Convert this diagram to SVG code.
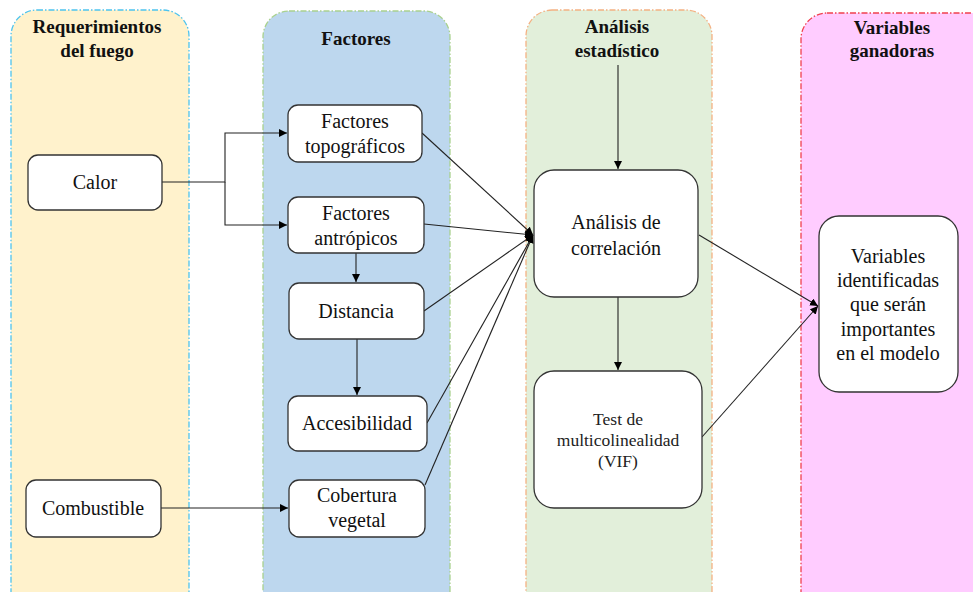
<svg xmlns="http://www.w3.org/2000/svg" width="973" height="592" viewBox="0 0 973 592">
<style>
.lane{stroke-width:1.3;stroke-dasharray:6 2 1.5 2}
.node{fill:#fff;stroke:#333;stroke-width:1.3}
.c{fill:none;stroke:#222;stroke-width:1.1}
</style>
<defs>
<marker id="ah" viewBox="0 0 10 10" refX="10" refY="5" markerWidth="8" markerHeight="8" markerUnits="userSpaceOnUse" orient="auto">
<path d="M0,0 L10,5 L0,10 z" fill="#000"/>
</marker>
</defs>
<rect width="973" height="592" fill="#fff"/>
<g id="lane-requerimientos">
<rect class="lane" x="11" y="10" width="178" height="610" rx="26" fill="#FFF2CC" stroke="#4DC3EE"/>
<text x="97" y="33" font-family="Liberation Serif" font-size="19" font-weight="bold" text-anchor="middle" fill="#111">Requerimientos</text>
<text x="97" y="57" font-family="Liberation Serif" font-size="19" font-weight="bold" text-anchor="middle" fill="#111">del fuego</text>
</g>
<g id="lane-factores">
<rect class="lane" x="263" y="11" width="187" height="610" rx="26" fill="#BDD7EE" stroke="#A9D18E"/>
<text x="356" y="45" font-family="Liberation Serif" font-size="19" font-weight="bold" text-anchor="middle" fill="#111">Factores</text>
</g>
<g id="lane-analisis">
<rect class="lane" x="526" y="10" width="186" height="610" rx="26" fill="#E2EFDA" stroke="#F4B183"/>
<text x="617" y="33" font-family="Liberation Serif" font-size="19" font-weight="bold" text-anchor="middle" fill="#111">Análisis</text>
<text x="617" y="57" font-family="Liberation Serif" font-size="19" font-weight="bold" text-anchor="middle" fill="#111">estadístico</text>
</g>
<g id="lane-variables">
<rect class="lane" x="801" y="13" width="200" height="610" rx="26" fill="#FFCCFF" stroke="#F0404F"/>
<text x="892" y="34" font-family="Liberation Serif" font-size="19" font-weight="bold" text-anchor="middle" fill="#111">Variables</text>
<text x="892" y="57" font-family="Liberation Serif" font-size="19" font-weight="bold" text-anchor="middle" fill="#111">ganadoras</text>
</g>
<g id="connectors">
<polyline class="c" points="162,182 225,182 225,133 287,133" marker-end="url(#ah)"/>
<polyline class="c" points="225,182 225,225 287,225" marker-end="url(#ah)"/>
<line class="c" x1="356" y1="253" x2="356" y2="282" marker-end="url(#ah)"/>
<line class="c" x1="357" y1="339" x2="357" y2="395" marker-end="url(#ah)"/>
<line class="c" x1="161" y1="508" x2="288" y2="508" marker-end="url(#ah)"/>
<line class="c" x1="422" y1="133" x2="533" y2="235" marker-end="url(#ah)"/>
<line class="c" x1="424" y1="224" x2="533" y2="235" marker-end="url(#ah)"/>
<line class="c" x1="424" y1="311" x2="533" y2="235" marker-end="url(#ah)"/>
<line class="c" x1="427" y1="423" x2="533" y2="235" marker-end="url(#ah)"/>
<line class="c" x1="425" y1="485" x2="533" y2="235" marker-end="url(#ah)"/>
<line class="c" x1="618" y1="65" x2="618" y2="169" marker-end="url(#ah)"/>
<line class="c" x1="618" y1="297" x2="618" y2="370" marker-end="url(#ah)"/>
<line class="c" x1="699" y1="235" x2="818" y2="306" marker-end="url(#ah)"/>
<line class="c" x1="702" y1="437" x2="818" y2="306" marker-end="url(#ah)"/>
</g>
<g id="calor">
<rect class="node" x="28" y="155" width="134" height="55" rx="10"/>
<text x="95" y="189" font-family="Liberation Serif" font-size="20" text-anchor="middle" fill="#111">Calor</text>
</g>
<g id="combustible">
<rect class="node" x="26" y="480" width="135" height="57" rx="10"/>
<text x="93" y="515" font-family="Liberation Serif" font-size="20" text-anchor="middle" fill="#111">Combustible</text>
</g>
<g id="factores-topograficos">
<rect class="node" x="288" y="105" width="134" height="57" rx="10"/>
<text x="355" y="128" font-family="Liberation Serif" font-size="20" text-anchor="middle" fill="#111">Factores</text>
<text x="355" y="153" font-family="Liberation Serif" font-size="20" text-anchor="middle" fill="#111">topográficos</text>
</g>
<g id="factores-antropicos">
<rect class="node" x="288" y="197" width="136" height="56" rx="10"/>
<text x="356" y="220" font-family="Liberation Serif" font-size="20" text-anchor="middle" fill="#111">Factores</text>
<text x="356" y="245" font-family="Liberation Serif" font-size="20" text-anchor="middle" fill="#111">antrópicos</text>
</g>
<g id="distancia">
<rect class="node" x="289" y="283" width="135" height="56" rx="10"/>
<text x="356" y="318" font-family="Liberation Serif" font-size="20" text-anchor="middle" fill="#111">Distancia</text>
</g>
<g id="accesibilidad">
<rect class="node" x="288" y="396" width="139" height="55" rx="10"/>
<text x="357" y="430" font-family="Liberation Serif" font-size="20" text-anchor="middle" fill="#111">Accesibilidad</text>
</g>
<g id="cobertura-vegetal">
<rect class="node" x="289" y="480" width="136" height="57" rx="10"/>
<text x="357" y="502" font-family="Liberation Serif" font-size="20" text-anchor="middle" fill="#111">Cobertura</text>
<text x="357" y="527" font-family="Liberation Serif" font-size="20" text-anchor="middle" fill="#111">vegetal</text>
</g>
<g id="analisis-correlacion">
<rect class="node" x="534" y="170" width="164" height="127" rx="20"/>
<text x="616" y="229" font-family="Liberation Serif" font-size="20" text-anchor="middle" fill="#111">Análisis de</text>
<text x="616" y="255" font-family="Liberation Serif" font-size="20" text-anchor="middle" fill="#111">correlación</text>
</g>
<g id="test-multicolinealidad">
<rect class="node" x="534" y="371" width="168" height="137" rx="20"/>
<text x="618" y="425" font-family="Liberation Serif" font-size="17.5" text-anchor="middle" fill="#222">Test de</text>
<text x="618" y="446" font-family="Liberation Serif" font-size="17.5" text-anchor="middle" fill="#222">multicolinealidad</text>
<text x="618" y="467" font-family="Liberation Serif" font-size="17.5" text-anchor="middle" fill="#222">(VIF)</text>
</g>
<g id="variables-identificadas">
<rect class="node" x="819" y="216" width="139" height="176" rx="20"/>
<text x="888" y="263" font-family="Liberation Serif" font-size="20" text-anchor="middle" fill="#111">Variables</text>
<text x="888" y="287" font-family="Liberation Serif" font-size="20" text-anchor="middle" fill="#111">identificadas</text>
<text x="888" y="311" font-family="Liberation Serif" font-size="20" text-anchor="middle" fill="#111">que serán</text>
<text x="888" y="336" font-family="Liberation Serif" font-size="20" text-anchor="middle" fill="#111">importantes</text>
<text x="888" y="360" font-family="Liberation Serif" font-size="20" text-anchor="middle" fill="#111">en el modelo</text>
</g>
</svg>
